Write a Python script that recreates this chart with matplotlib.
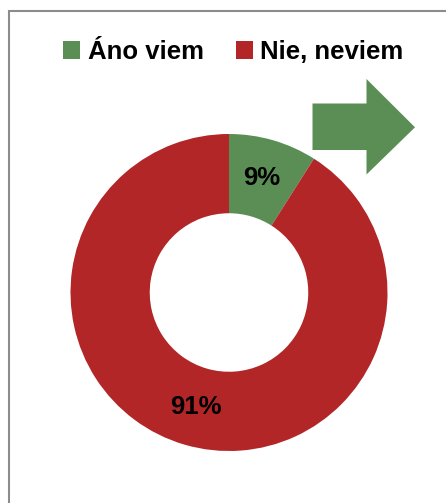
import matplotlib.pyplot as plt
from matplotlib.patches import Polygon, Rectangle

# survey answers
labels = ['Áno viem', 'Nie, neviem']
values = [9, 91]
colors = ['#5B8E55', '#B22628']

plt.rcParams['font.family'] = ['Liberation Sans', 'DejaVu Sans']

W, H = 446, 503
fig = plt.figure(figsize=(W / 100, H / 100), dpi=100)

# outer chart frame (only left and top edges visible in the crop)
fig.patches.append(Rectangle((8.5 / W, -1), 3, 2 - 10.5 / H,
                             transform=fig.transFigure, fill=False,
                             edgecolor='#8c8c8c', linewidth=1.5))

cx, cy, r = 229, 292.5, 158.5
ax = fig.add_axes([(cx - r) / W, (H - cy - r) / H, 2 * r / W, 2 * r / H])
wedges, texts, autotexts = ax.pie(values, colors=colors, startangle=90, counterclock=False,
                                  radius=1, autopct='%d%%', pctdistance=0.75,
                                  wedgeprops=dict(width=0.5, linewidth=0),
                                  textprops=dict(fontsize=18.5, fontweight='bold', color='black'))
ax.set_xlim(-1, 1)
ax.set_ylim(-1, 1)
ax.set_aspect('equal')
ax.axis('off')

fig.legend(wedges, labels, loc='center', bbox_to_anchor=(233.5 / W, 1 - 52 / H),
           ncol=2, frameon=False, borderpad=0, handlelength=0.65, handleheight=0.65,
           handletextpad=0.3, columnspacing=1.25,
           prop=dict(size=18.5, weight='bold'))

# green arrow pointing right
arrow_px = [(312.5, 103.5), (366.5, 103.5), (366.5, 79), (415, 127.3),
            (366.5, 174.5), (366.5, 150), (312.5, 150)]
fig.patches.append(Polygon([(x / W, 1 - y / H) for x, y in arrow_px], closed=True,
                           transform=fig.transFigure, facecolor='#5B8E55', edgecolor='none'))

fig.savefig('out.png', dpi=100)
